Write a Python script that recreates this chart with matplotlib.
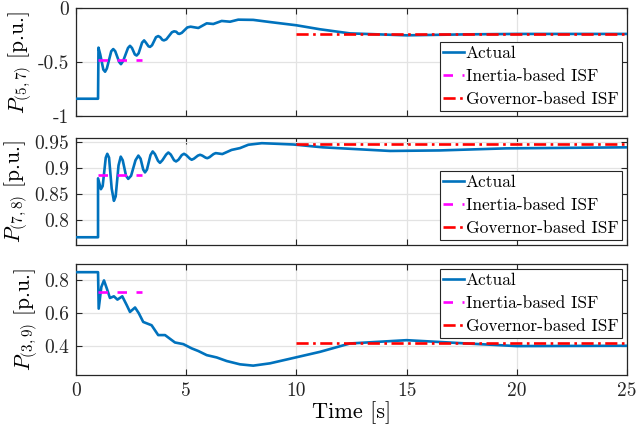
import matplotlib
matplotlib.use("Agg")
import matplotlib.pyplot as plt

plt.rcParams["font.family"] = ["cmr10", "DejaVu Serif"]
plt.rcParams["mathtext.fontset"] = "cm"
plt.rcParams["axes.unicode_minus"] = False

# Actual flows (time [s], value [p.u.])
t_57 = [0, 1.0, 1.02, 1.10, 1.24, 1.32, 1.40, 1.60, 1.69, 1.78, 1.96, 2.04, 2.14,
        2.36, 2.45, 2.54, 2.67, 2.75, 2.84, 3.00, 3.09, 3.17, 3.29, 3.36, 3.45,
        3.63, 3.73, 3.82, 3.92, 3.99, 4.10, 4.35, 4.45, 4.55, 4.63, 4.69, 4.80,
        5.05, 5.2, 5.55, 5.93, 6.23, 6.61, 6.99, 7.36, 8.04, 8.8, 10.0, 11.07,
        12.43, 15.0, 17.73, 20, 25]
p_57 = [-0.84, -0.84, -0.367, -0.43, -0.57, -0.59, -0.56, -0.40, -0.38, -0.40,
        -0.50, -0.52, -0.49, -0.37, -0.35, -0.37, -0.43, -0.44, -0.42, -0.32,
        -0.30, -0.32, -0.355, -0.36, -0.345, -0.27, -0.26, -0.27, -0.295, -0.30,
        -0.29, -0.225, -0.216, -0.22, -0.237, -0.24, -0.23, -0.18, -0.173,
        -0.185, -0.142, -0.148, -0.12, -0.127, -0.108, -0.11, -0.13, -0.16,
        -0.197, -0.235, -0.253, -0.244, -0.24, -0.24]

t_78 = [0, 1.0, 1.0, 1.13, 1.21, 1.30, 1.35, 1.42, 1.50, 1.62, 1.72, 1.80, 1.93,
        2.03, 2.12, 2.27, 2.37, 2.50, 2.70, 2.83, 2.93, 3.05, 3.13, 3.22, 3.38,
        3.48, 3.58, 3.72, 3.81, 3.92, 4.09, 4.19, 4.30, 4.45, 4.54, 4.65, 4.80,
        4.90, 5.00, 5.17, 5.25, 5.35, 5.53, 5.63, 5.73, 5.88, 5.96, 6.06, 6.24,
        6.34, 6.64, 7.06, 7.44, 7.82, 8.43, 9.03, 9.86, 11.2, 14.25, 16.5,
        19.5, 25]
p_78 = [0.766, 0.766, 0.880, 0.859, 0.865, 0.90, 0.92, 0.9275, 0.92, 0.86,
        0.8365, 0.845, 0.905, 0.922, 0.915, 0.885, 0.879, 0.885, 0.915, 0.924,
        0.918, 0.897, 0.8915, 0.897, 0.925, 0.932, 0.927, 0.914, 0.910, 0.915,
        0.926, 0.930, 0.926, 0.915, 0.9127, 0.916, 0.925, 0.9275, 0.925, 0.918,
        0.916, 0.918, 0.924, 0.9256, 0.924, 0.920, 0.919, 0.921, 0.927, 0.9288,
        0.927, 0.935, 0.9385, 0.945, 0.948, 0.947, 0.9455, 0.940, 0.933,
        0.934, 0.938, 0.940]

t_39 = [0, 1.0, 1.03, 1.15, 1.27, 1.40, 1.54, 1.72, 1.88, 2.10, 2.30, 2.45, 2.68,
        2.85, 3.05, 3.43, 3.73, 4.04, 4.49, 4.87, 5.25, 5.55, 5.93, 6.38, 6.84,
        7.44, 8.04, 8.80, 9.71, 11.07, 12.43, 15.0, 17.73, 20, 25]
p_39 = [0.85, 0.85, 0.628, 0.76, 0.80, 0.75, 0.693, 0.703, 0.683, 0.703, 0.65,
        0.608, 0.635, 0.60, 0.547, 0.527, 0.467, 0.467, 0.422, 0.412, 0.386,
        0.37, 0.345, 0.331, 0.309, 0.289, 0.281, 0.295, 0.323, 0.365, 0.416,
        0.436, 0.416, 0.40, 0.402]

# ISF estimates: inertia-based over [1, 3] s, governor-based over [10, 25] s
inertia_t = [1, 3]
governor_t = [10, 25]
inertia_isf = [-0.48, 0.886, 0.73]
governor_isf = [-0.237, 0.946, 0.416]

ylabels = [r"$P_{(5,7)}$ [p.u.]", r"$P_{(7,8)}$ [p.u.]", r"$P_{(3,9)}$ [p.u.]"]
ylims = [(-1, 0), (0.751, 0.958), (0.224, 0.901)]
yticks = [[-1, -0.5, 0], [0.8, 0.85, 0.9, 0.95], [0.4, 0.6, 0.8]]
yticklabels = [["-1", "-0.5", "0"], ["0.8", "0.85", "0.9", "0.95"],
               ["0.4", "0.6", "0.8"]]
xticks = [0, 5, 10, 15, 20, 25]
legend_loc = ["lower right", "lower right", "upper right"]

series = [(t_57, p_57), (t_78, p_78), (t_39, p_39)]

fig = plt.figure(figsize=(6.37, 4.30), dpi=100)
# panel positions [left, bottom, width, height] in figure fractions
boxes = [[0.1193, 0.7302, 0.865, 0.2512],
         [0.1193, 0.4302, 0.865, 0.2488],
         [0.1193, 0.1279, 0.865, 0.2586]]

edge = "#262626"
for i, (t, p) in enumerate(series):
    ax = fig.add_axes(boxes[i])
    ax.plot(t, p, color="#0072BD", lw=1.9, solid_joinstyle="round",
            label="Actual", zorder=3)
    ax.plot(inertia_t, [inertia_isf[i]] * 2, color="magenta", lw=1.9,
            dashes=(3.6, 3.6), label="Inertia-based ISF", zorder=4)
    ax.plot(governor_t, [governor_isf[i]] * 2, color="red", lw=1.9,
            dashes=(4.6, 1.7, 1.0, 1.7), label="Governor-based ISF", zorder=4)

    ax.set_xlim(0, 25)
    ax.set_ylim(*ylims[i])
    ax.set_xticks(xticks)
    ax.set_yticks(yticks[i])
    ax.set_yticklabels(yticklabels[i])
    if i < 2:
        ax.set_xticklabels([])
    else:
        ax.set_xticklabels([str(x) for x in xticks])
        ax.set_xlabel("Time [s]", fontsize=16, labelpad=1)
    ax.set_ylabel(ylabels[i], fontsize=15.5, labelpad=3)

    ax.grid(True, color="#e3e3e3", lw=0.9)
    ax.set_axisbelow(True)
    ax.tick_params(direction="in", top=True, right=True, length=4,
                   labelsize=14, colors=edge, width=0.8, pad=5)
    for s in ax.spines.values():
        s.set_color(edge)
        s.set_linewidth(0.9)

    leg = ax.legend(loc=legend_loc[i], fontsize=12.5, handlelength=1.2,
                    handletextpad=0.1, labelspacing=0.45, borderpad=0.2,
                    borderaxespad=0.3, fancybox=False, framealpha=1)
    leg.get_frame().set_edgecolor(edge)
    leg.get_frame().set_linewidth(0.8)
    leg.set_zorder(10)

fig.savefig("out.png", dpi=100)
